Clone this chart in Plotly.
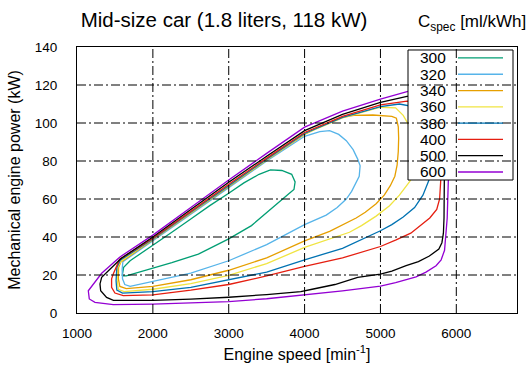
import plotly.graph_objects as go

# ---------------- data ----------------
levels = [300, 320, 340, 360, 380, 400, 500, 600]
colors = ["#009e73", "#56b4e9", "#e69f00", "#f0e442", "#0072b2", "#e51e10", "#000000", "#9400d3"]

x_ticks = [1000, 2000, 3000, 4000, 5000, 6000]
y_ticks = [0, 20, 40, 60, 80, 100, 120, 140]

c300_x = [1595, 1615, 1700, 1850, 2000, 2250, 2500, 2750, 3000, 3200, 3400, 3550, 3700, 3830, 3875,
          3860, 3800, 3700, 3500, 3300, 3000, 2750, 2600, 2250, 1900, 1650, 1595]
c300_y = [19.5, 24, 27.5, 31.5, 35.5, 42.5, 49.5, 56.5, 63, 68.5, 73, 75.3, 75, 73, 69,
          65, 63, 59.5, 52.5, 46, 39, 34, 31, 26.5, 22.5, 19.5, 19.5]

c320_x = [1605, 2000, 2500, 3000, 3500, 4000, 4200, 4330, 4450, 4550, 4640, 4700, 4732, 4720, 4680,
          4620, 4550, 4430, 4285, 4150, 4000, 3500, 3000, 2500, 2000, 1700, 1630, 1600, 1595, 1605]
c320_y = [27, 38.2, 52, 66, 80, 93, 95.5, 96, 94, 90.7, 86, 81, 77.5, 72, 68.8,
          64, 60, 55.5, 51.5, 49, 46.5, 36, 27.5, 21, 16.5, 14, 15, 18, 23, 27]

c340_x = [1600, 2000, 2500, 3000, 3500, 4000, 4300, 4500, 4650, 4900, 5150, 5210, 5235, 5240, 5235,
          5220, 5190, 5130, 5050, 4943, 4800, 4680, 4500, 4330, 4000, 3500, 3000, 2500, 2000, 1650,
          1565, 1545, 1548, 1580, 1600]
c340_y = [27.4, 38.6, 52.6, 66.8, 80.5, 94, 100, 103, 104, 104.2, 103.5, 102.5, 98, 92, 85,
          78, 72, 67, 62, 57.5, 53, 50, 46.5, 43, 38, 29, 22.5, 17.5, 14, 12.8,
          14, 18, 24, 27, 27.4]

c360_x = [1580, 2000, 2500, 3000, 3500, 4000, 4500, 5000, 5200, 5300, 5380, 5440, 5480, 5470, 5420,
          5382, 5250, 5120, 4943, 4750, 4592, 4300, 4000, 3500, 3000, 2500, 2000, 1620, 1545, 1530,
          1535, 1580]
c360_y = [27.3, 38.8, 52.8, 67, 80.8, 94.2, 102.7, 108.3, 108, 104, 98.5, 92, 84, 76, 71.5,
          69, 62, 56.5, 51, 46, 42.5, 38.5, 34.5, 26, 19.8, 15.5, 12.5, 11.3, 12.5, 17,
          24, 27.3]

c380_x = [1570, 2000, 2500, 3000, 3500, 4000, 4500, 5000, 5250, 5450, 5600, 5670, 5680, 5645, 5560,
          5450, 5300, 5150, 5000, 4500, 4000, 3500, 3000, 2500, 2000, 1600, 1525, 1515, 1525, 1570]
c380_y = [27.8, 39, 53, 67.2, 81, 94.5, 103, 108.6, 110, 108.5, 103, 93, 80, 70.5, 62,
          55.5, 50.5, 46.5, 43.3, 34, 28, 21.5, 17.3, 13.5, 11.2, 10.5, 12, 17, 24, 27.8]

c400_x = [1560, 2000, 2500, 3000, 3500, 4000, 4500, 5000, 5350, 5600, 5760, 5790, 5795, 5795, 5780,
          5742, 5650, 5557, 5400, 5206, 5000, 4500, 4000, 3500, 3000, 2500, 2000, 1610, 1500, 1456,
          1456, 1478, 1560]
c400_y = [28.2, 39.3, 53.5, 67.8, 81.5, 95, 103.5, 109.5, 111.5, 111, 107, 100, 85, 70, 60,
          54.5, 50, 47, 42, 38.5, 35, 29, 24.5, 19.5, 15, 12, 9.5, 9.1, 10.5, 13.5,
          18, 20.5, 28.2]

c500_x = [1580, 2000, 2500, 3000, 3500, 4000, 4500, 5000, 5350, 5600, 5780, 5835, 5848, 5845, 5838,
          5830, 5810, 5770, 5645, 5500, 5338, 5150, 5000, 4700, 4400, 4100, 3950, 3500, 3000, 2500,
          2000, 1480, 1390, 1312, 1303, 1325, 1580]
c500_y = [28.7, 40, 54.5, 68.8, 82.5, 96, 104.5, 110.8, 114, 115.5, 115, 111, 100, 70, 50,
          42, 37, 33.7, 30, 27, 24.9, 22, 20.5, 18.8, 15, 12.5, 11.3, 9.7, 8.3, 7.3,
          6.6, 6.6, 8.2, 11.7, 15.3, 18.8, 28.7]

c600_x = [1566, 2000, 2500, 3000, 3500, 4000, 4500, 5000, 5350, 5600, 5800, 5885, 5900, 5895, 5880,
          5865, 5845, 5800, 5733, 5600, 5470, 5200, 5000, 4500, 4200, 4000, 3500, 3000, 2500, 2000,
          1478, 1237, 1162, 1149, 1325, 1566]
c600_y = [29.5, 41, 55.5, 70, 84, 97.8, 106.3, 112.6, 116.5, 118, 118.5, 116, 100, 70, 50,
          40, 33, 28, 24.9, 21.5, 19, 16, 14.2, 11.7, 10.4, 9.5, 7.5, 6, 5.2, 4.7,
          4.4, 5.6, 7.4, 11.7, 20.9, 29.5]

contours_x = [c300_x, c320_x, c340_x, c360_x, c380_x, c400_x, c500_x, c600_x]
contours_y = [c300_y, c320_y, c340_y, c360_y, c380_y, c400_y, c500_y, c600_y]

# ---------------- figure ----------------
FONT = "Liberation Sans, Arial, sans-serif"
W, H = 531, 366
ML, MR, MT, MB = 77, 14, 46.5, 52.5
PW, PH = W - ML - MR, H - MT - MB


def px2paper_x(px):
    return (px - ML) / PW


def px2paper_y(py):
    return (H - MB - py) / PH


fig = go.Figure()
for lev, col, xs, ys in zip(levels, colors, contours_x, contours_y):
    fig.add_trace(go.Scatter(x=xs, y=ys, mode="lines", name=str(lev),
                             line=dict(color=col, width=1.3), showlegend=False,
                             hoverinfo="skip"))

shapes = []
# opaque key box
shapes.append(dict(type="rect", xref="paper", yref="paper",
                   x0=px2paper_x(408), x1=px2paper_x(513),
                   y0=px2paper_y(180), y1=px2paper_y(49.5),
                   fillcolor="white", line=dict(color="black", width=1), layer="above"))
GRID_DASH = "9px,3px,2px,3px"
for v in x_ticks[1:]:
    shapes.append(dict(type="line", xref="x", yref="y domain", x0=v, x1=v, y0=0, y1=1,
                       line=dict(color="black", width=1, dash=GRID_DASH), layer="above"))
for v in y_ticks[1:-1]:
    shapes.append(dict(type="line", xref="x domain", yref="y", x0=0, x1=1, y0=v, y1=v,
                       line=dict(color="black", width=1, dash=GRID_DASH), layer="above"))

annotations = []
row0, drow = 57.5, 16.35
for i, (lev, col) in enumerate(zip(levels, colors)):
    py = row0 + i * drow
    shapes.append(dict(type="line", xref="paper", yref="paper",
                       x0=px2paper_x(458), x1=px2paper_x(503),
                       y0=px2paper_y(py), y1=px2paper_y(py),
                       line=dict(color=col, width=1.3), layer="above"))
    annotations.append(dict(xref="paper", yref="paper", x=px2paper_x(448), y=px2paper_y(py),
                            xanchor="right", yanchor="middle", text=str(lev), showarrow=False,
                            font=dict(family=FONT, size=15.5, color="black")))

annotations.append(dict(xref="paper", yref="paper", x=px2paper_x(528), y=px2paper_y(22),
                        xanchor="right", yanchor="middle",
                        text="C<sub>spec</sub> [ml/kWh]", showarrow=False,
                        font=dict(family=FONT, size=17, color="black")))

fig.update_layout(
    width=W, height=H,
    margin=dict(l=ML, r=MR, t=MT, b=MB, pad=0, autoexpand=False),
    paper_bgcolor="white", plot_bgcolor="white",
    font=dict(family=FONT, color="black"),
    title=dict(text="Mid-size car (1.8 liters, 118 kW)", xref="container", yref="container",
               x=224 / W, y=1 - 20 / H, xanchor="center", yanchor="middle",
               automargin=False,
               font=dict(family=FONT, size=20.5, color="black")),
    shapes=shapes,
    annotations=annotations,
    showlegend=False,
)
fig.update_xaxes(range=[1000, 6800], tickvals=x_ticks, ticktext=[str(v) for v in x_ticks],
                 showgrid=False, zeroline=False, showline=True, mirror=True, automargin=False,
                 linecolor="black", linewidth=1, ticks="", ticklabelstandoff=8,
                 tickfont=dict(family=FONT, size=13.5, color="black"),
                 title=dict(text="Engine speed [min<sup>-1</sup>]", standoff=8,
                            font=dict(family=FONT, size=16, color="black")))
fig.update_yaxes(range=[0, 140], tickvals=y_ticks, ticktext=[str(v) for v in y_ticks],
                 showgrid=False, zeroline=False, showline=True, mirror=True, automargin=False,
                 linecolor="black", linewidth=1, ticks="", ticklabelstandoff=16,
                 tickfont=dict(family=FONT, size=13.5, color="black"),
                 title=dict(text="Mechanical engine power (kW)", standoff=10,
                            font=dict(family=FONT, size=16, color="black")))

fig.write_html("out.html", config={"displayModeBar": False, "staticPlot": True},
               post_script="document.body.style.margin='0px';document.body.style.overflow='hidden';")
